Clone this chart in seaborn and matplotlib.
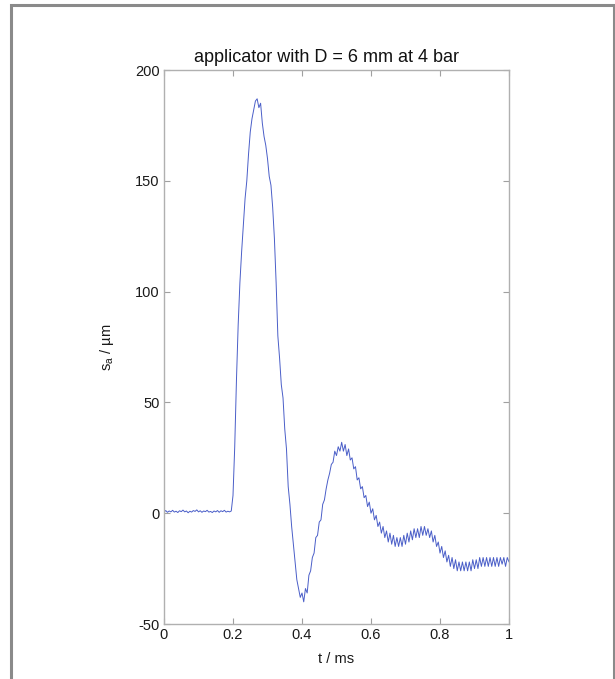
import numpy as np
import pandas as pd
import matplotlib
matplotlib.use("Agg")
import matplotlib.pyplot as plt
from matplotlib.patches import Rectangle
import seaborn as sns

# ---- data ----
title = "applicator with D = 6 mm at 4 bar"
x_label = "t / ms"
y_label = "s$_a$ / µm"
x_ticks = [0, 0.2, 0.4, 0.6, 0.8, 1.0]
x_tick_labels = ["0", "0.2", "0.4", "0.6", "0.8", "1"]
y_ticks = [-50, 0, 50, 100, 150, 200]
y_tick_labels = ["-50", "0", "50", "100", "150", "200"]
t_step = 0.005  # ms between samples

s_baseline = [0.5, 1.2, 0.4, 1.0, 0.6, 1.3, 0.5, 0.9, 0.3, 1.1,
              0.7, 1.4, 0.6, 1.0, 0.2, 0.9, 0.5, 1.2, 0.8, 1.5,
              0.6, 1.1, 0.4, 1.0, 0.7, 1.3, 0.5, 0.8, 0.3, 1.0,
              0.6, 1.2, 0.4, 1.1, 0.7, 1.3, 0.5, 0.9, 0.6, 1.0]
s_main_pulse = [8, 30, 60, 85, 104, 118, 130, 142, 150, 162,
                172, 178, 182, 186, 187, 183, 185, 176, 170, 166,
                160, 152, 148, 138, 124, 104, 80, 70, 58, 52,
                38, 29, 12, 4, -6, -14, -22, -30, -34, -38,
                -36, -40, -34, -36, -28, -26, -20, -18, -11, -10,
                -4, -3, 4, 6, 11, 15, 18, 22, 23, 28]
s_second_wave = [26, 30, 28, 32, 28, 31, 26, 29, 24, 25,
                 20, 21, 15, 16, 11, 12, 7, 8, 3, 5,
                 0, 2, -3, -1, -6, -4, -9, -6, -11, -8,
                 -13, -9, -14, -10, -15, -11, -15, -11, -15, -10,
                 -14, -9, -13, -8, -12, -7, -11, -7, -11, -6,
                 -10, -6, -10, -7, -11, -8, -13, -10, -15, -13]
s_tail = [-18, -15, -20, -17, -22, -19, -24, -20, -25, -21,
          -26, -22, -26, -22, -26, -22, -26, -22, -26, -21,
          -25, -21, -25, -20, -24, -20, -24, -20, -24, -20,
          -24, -20, -24, -20, -24, -20, -23, -20, -24, -20,
          -22]

s_a = s_baseline + s_main_pulse + s_second_wave + s_tail
t = np.round(np.arange(len(s_a)) * t_step, 3)
df = pd.DataFrame({"t": t, "s_a": s_a})

# ---- style ----
sns.set_theme(style="white")
plt.rcParams["font.family"] = ["Liberation Sans", "DejaVu Sans"]
plt.rcParams["mathtext.fontset"] = "custom"
plt.rcParams["mathtext.rm"] = "Liberation Sans"
plt.rcParams["mathtext.it"] = "Liberation Sans:italic"
plt.rcParams["mathtext.default"] = "regular"
plt.rcParams["axes.unicode_minus"] = False

W, H = 615, 679
fig = plt.figure(figsize=(W / 100, H / 100), dpi=100)
fig.patch.set_facecolor("white")

# outer gray frame
fig.add_artist(Rectangle((11 / W, -0.05), (614 - 11) / W, (674 / H) + 0.05,
                         transform=fig.transFigure, fill=False,
                         edgecolor="#8a8a8a", linewidth=2.2))

ax = fig.add_axes([164 / W, (H - 624) / H, 345 / W, 554 / H])
sns.lineplot(data=df, x="t", y="s_a", ax=ax, color="#4a5ec8", linewidth=0.7)

ax.set_xlim(0, 1)
ax.set_ylim(-50, 200)
ax.set_xticks(x_ticks)
ax.set_xticklabels(x_tick_labels)
ax.set_yticks(y_ticks)
ax.set_yticklabels(y_tick_labels)
ax.tick_params(direction="in", length=4, width=0.8, color="#a0a0a0",
               top=True, right=True, bottom=True, left=True,
               labelsize=10.5, labelcolor="#1a1a1a", pad=3)
for sp in ax.spines.values():
    sp.set_color("#b0b0b0")
    sp.set_linewidth(1.0)

ax.set_title(title, fontsize=13, color="#111111", pad=6, x=0.47)
ax.set_xlabel(x_label, fontsize=10.5, color="#1a1a1a", labelpad=7)
ax.set_ylabel(y_label, fontsize=10.5, color="#1a1a1a", labelpad=14)

fig.savefig("out.png", dpi=100, facecolor="white")
